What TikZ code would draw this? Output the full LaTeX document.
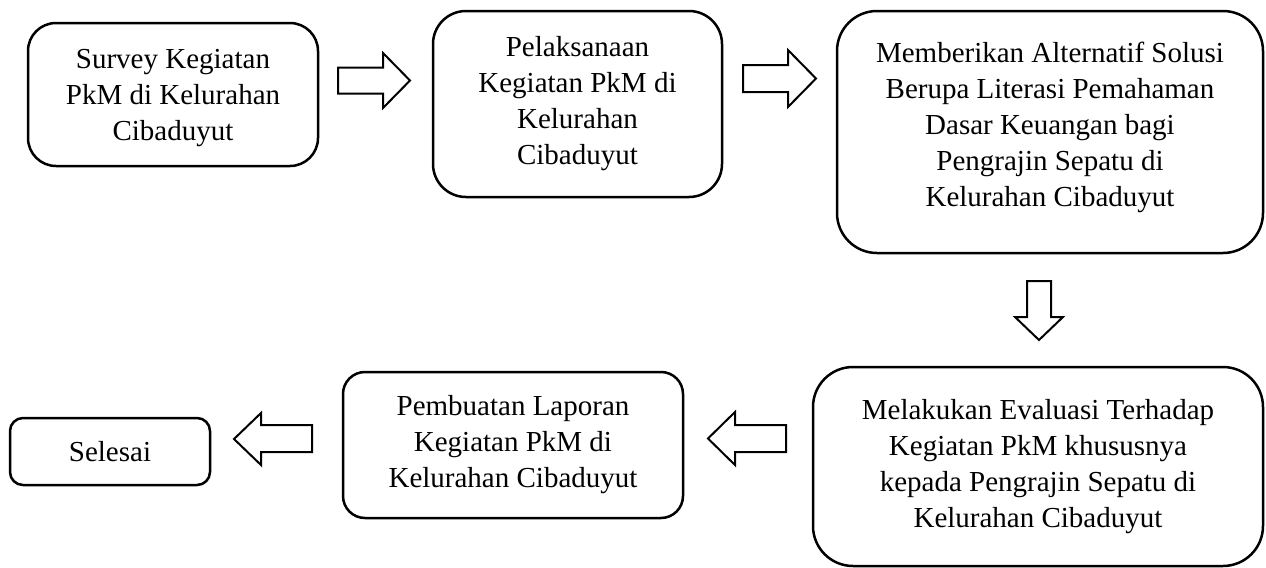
\documentclass[tikz,border=0pt]{standalone}
\usepackage{fontspec}
\setmainfont{Liberation Serif}
\begin{document}
\begin{tikzpicture}[x=0.5pt,y=-0.5pt,
  stepbox/.style={draw=black, line width=1.25pt, fill=white, align=center,
    inner sep=0pt, font=\fontsize{14.5}{18}\selectfont},
  blockarrow/.style={draw=black, line width=1pt, fill=white, line join=miter}]
\useasboundingbox (0,0) rectangle (1266,568);
% boxes
\node[stepbox, minimum width=145pt, minimum height=71.5pt, rounded corners=14pt] (b1) at (173,94.5)
  {\rule{0pt}{13.6pt}Survey Kegiatan\\PkM di Kelurahan\\Cibaduyut};
\node[stepbox, minimum width=144.5pt, minimum height=93pt, rounded corners=16.5pt] (b2) at (577.5,104)
  {Pelaksanaan\\Kegiatan PkM di\\Kelurahan\\Cibaduyut};
\node[stepbox, minimum width=213pt, minimum height=121pt, rounded corners=20pt] (b3) at (1050,132)
  {Memberikan Alternatif Solusi\\Berupa Literasi Pemahaman\\Dasar Keuangan bagi\\Pengrajin Sepatu di\\Kelurahan Cibaduyut\rule[-8pt]{0pt}{0pt}};
\node[stepbox, minimum width=225pt, minimum height=99.5pt, rounded corners=20pt] (b4) at (1038,466.5)
  {Melakukan Evaluasi Terhadap\\Kegiatan PkM khususnya\\kepada Pengrajin Sepatu di\\Kelurahan Cibaduyut};
\node[stepbox, minimum width=170pt, minimum height=73pt, rounded corners=11pt] (b5) at (513,445)
  {Pembuatan Laporan\\Kegiatan PkM di\\Kelurahan Cibaduyut};
\node[stepbox, minimum width=100pt, minimum height=33.5pt, rounded corners=6.5pt] (b6) at (110,451.5)
  {Selesai};
% block arrows
\draw[blockarrow] (338,67.5) -- (383,67.5) -- (383,53) -- (410,80.5) -- (383,108) -- (383,93.5) -- (338,93.5) -- cycle;
\draw[blockarrow] (743,65) -- (788,65) -- (788,50) -- (816,78.5) -- (788,107) -- (788,92) -- (743,92) -- cycle;
\draw[blockarrow] (1027,281) -- (1051,281) -- (1051,317) -- (1063,317) -- (1039,340) -- (1015,317) -- (1027,317) -- cycle;
\draw[blockarrow] (786,425) -- (735,425) -- (735,412) -- (708,438.5) -- (735,465) -- (735,452) -- (786,452) -- cycle;
\draw[blockarrow] (312,425) -- (261,425) -- (261,413) -- (234,439) -- (261,465) -- (261,452) -- (312,452) -- cycle;
\end{tikzpicture}
\end{document}
